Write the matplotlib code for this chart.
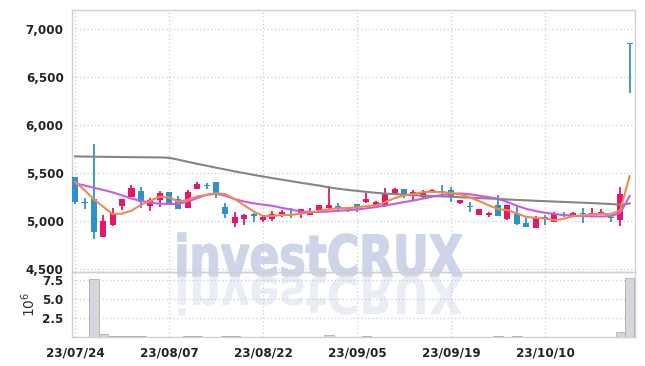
import numpy as np
import pandas as pd
import matplotlib
matplotlib.use('Agg')
import matplotlib.pyplot as plt
from matplotlib.textpath import TextPath
from matplotlib.patches import PathPatch
from matplotlib.font_manager import FontProperties, fontManager
from matplotlib.transforms import Affine2D

# daily OHLC (KRW), trading days 23/07/24 .. 23/10/23
opens = [5455, 5200, 5226, 4836, 4955, 5160, 5253, 5313, 5160, 5219,
         5299, 5226, 5139, 5337, 5375, 5403, 5146, 4983, 5021, 5073,
         5010, 5024, 5066, 5070, 5080, 5066, 5111, 5139, 5156, 5143,
         5174, 5198, 5156, 5160, 5278, 5334, 5264, 5253, 5306, 5316,
         5323, 5191, 5160, 5063, 5063, 5167, 5018, 5073, 4976, 4930,
         5038, 4993, 5066, 5049, 5083, 5073, 5076, 5045, 5010, 6860]
highs = [5455, 5237, 5802, 5059, 5139, 5226, 5372, 5351, 5243, 5313,
         5299, 5260, 5323, 5410, 5400, 5403, 5191, 5094, 5073, 5080,
         5055, 5107, 5118, 5139, 5125, 5139, 5170, 5365, 5184, 5150,
         5180, 5288, 5205, 5347, 5345, 5340, 5320, 5323, 5330, 5375,
         5357, 5225, 5200, 5130, 5095, 5271, 5170, 5149, 5028, 5050,
         5060, 5090, 5100, 5090, 5139, 5139, 5125, 5050, 5357, 6860]
lows = [5177, 5122, 4810, 4830, 4950, 5115, 5253, 5132, 5104, 5149,
        5191, 5122, 5139, 5337, 5330, 5236, 5028, 4934, 4958, 4990,
        4995, 5000, 5045, 5028, 5028, 5060, 5105, 5130, 5094, 5094,
        5090, 5190, 5150, 5150, 5270, 5236, 5219, 5245, 5290, 5285,
        5202, 5180, 5100, 5060, 5045, 5050, 5015, 4960, 4935, 4925,
        4955, 4990, 5040, 5045, 4983, 5070, 5070, 4990, 4948, 6333]
closes = [5201, 5190, 4889, 5000, 5087, 5226, 5341, 5198, 5216, 5288,
          5191, 5122, 5299, 5389, 5368, 5278, 5070, 5042, 5063, 5055,
          5038, 5073, 5097, 5059, 5125, 5097, 5163, 5167, 5122, 5130,
          5139, 5229, 5198, 5295, 5340, 5278, 5302, 5295, 5323, 5302,
          5253, 5219, 5143, 5125, 5087, 5055, 5163, 4972, 4941, 5042,
          5018, 5073, 5049, 5080, 5070, 5087, 5097, 5028, 5281, 6850]
volume_m = [0.03, 0.03, 7.6, 0.4, 0.13, 0.13, 0.13, 0.13, 0.02, 0.02,
            0.02, 0.02, 0.13, 0.13, 0.02, 0.02, 0.13, 0.13, 0.02, 0.02,
            0.02, 0.02, 0.02, 0.02, 0.02, 0.02, 0.02, 0.2, 0.02, 0.02,
            0.02, 0.13, 0.02, 0.02, 0.02, 0.02, 0.02, 0.02, 0.02, 0.02,
            0.02, 0.02, 0.02, 0.02, 0.02, 0.13, 0.02, 0.13, 0.02, 0.02,
            0.02, 0.02, 0.02, 0.02, 0.02, 0.02, 0.02, 0.02, 0.7, 7.75]

# first four 5-day averages need earlier closes ->
ma5_head = [5410, 5323, 5226, 5149]
ma20 = [5393, 5372, 5348, 5325, 5300, 5268, 5235, 5212, 5192, 5182,
        5178, 5180, 5205, 5240, 5275, 5285, 5265, 5228, 5205, 5185,
        5172, 5160, 5138, 5120, 5100, 5095, 5096, 5100, 5108, 5114,
        5122, 5133, 5147, 5163, 5180, 5198, 5215, 5235, 5255, 5272,
        5282, 5288, 5280, 5265, 5250, 5232, 5200, 5160, 5128, 5105,
        5087, 5075, 5063, 5058, 5053, 5050, 5049, 5052, 5085, 5262]
ma_long = [5675, 5673, 5671, 5670, 5669, 5668, 5667, 5666, 5665, 5664,
           5660, 5640, 5618, 5597, 5577, 5557, 5538, 5518, 5500, 5482,
           5465, 5448, 5432, 5416, 5400, 5385, 5370, 5352, 5338, 5325,
           5315, 5305, 5295, 5287, 5281, 5276, 5271, 5266, 5262, 5258,
           5254, 5249, 5245, 5240, 5236, 5231, 5226, 5221, 5217, 5212,
           5208, 5204, 5200, 5196, 5192, 5188, 5183, 5178, 5172, 5184]

tick_pos = [0, 10, 20, 30, 40, 50]
tick_labels = ['23/07/24', '23/08/07', '23/08/22', '23/09/05', '23/09/19', '23/10/10']

up_col = '#e5176a'
down_col = '#2d93c6'
grid_col = '#c9cbdc'

# condensed label font if one is around
names = {f.name for f in fontManager.ttflist}
if 'Liberation Sans Narrow' in names:
    tick_fp = FontProperties(family='Liberation Sans Narrow', weight='bold', size=10.5)
else:
    tick_fp = FontProperties(family='DejaVu Sans', stretch='condensed', weight='bold', size=9.5)

W, H = 645, 366
fig = plt.figure(figsize=(W / 100, H / 100), dpi=100)
ax = fig.add_axes([72 / W, (H - 272) / H, 563 / W, 262 / H])
axv = fig.add_axes([72 / W, (H - 337) / H, 563 / W, 65 / H], sharex=ax)

# watermark, drawn behind transparent axes
tp = TextPath((0, 0), 'investCRUX', size=100,
              prop=FontProperties(family='DejaVu Sans', weight='bold'))
ext = tp.get_extents()
sx = 284 / ext.width
sy = 43 / ext.ymax
tx = 178 - ext.x0 * sx
base = H - 276
fig.add_artist(PathPatch(tp, transform=Affine2D().scale(sx, sy).translate(tx, base),
                         facecolor='#cfd5e9', edgecolor='#cfd5e9', linewidth=1.2, zorder=-5))
fig.add_artist(PathPatch(tp, transform=Affine2D().scale(sx, -sy * 0.9).translate(tx, base - 1),
                         facecolor='#eaedf5', edgecolor='none', zorder=-5))

x = np.arange(len(closes))
o = np.array(opens)
c = np.array(closes)
cols = [up_col if cc >= oo else down_col for oo, cc in zip(o, c)]
ax.vlines(x, lows, highs, colors=cols, linewidth=1.3, zorder=3)
body = np.maximum(np.abs(c - o), 10)
ax.bar(x, body, bottom=np.minimum(o, c), width=0.64, color=cols, zorder=4)

ma5 = pd.Series(closes).rolling(5).mean().to_numpy()
ma5[:4] = ma5_head
ax.plot(x, ma_long, color='#858585', lw=1.5, zorder=5)
ax.plot(x, ma20, color='#c95ae6', lw=1.5, zorder=5)
ax.plot(x, ma5, color='#ef8a4c', lw=1.5, zorder=5)

ax.set_ylim(4470, 7200)
ax.set_xlim(-0.33, 59.57)
ax.set_yticks([4500, 5000, 5500, 6000, 6500, 7000])
ax.set_yticklabels([f'{v:,}' for v in [4500, 5000, 5500, 6000, 6500, 7000]])

axv.bar(x, volume_m, width=1.0, facecolor='#d6d6dd', edgecolor='#aeaeb6', linewidth=0.6, zorder=3)
axv.set_ylim(0, 8.55)
axv.set_yticks([2.5, 5.0, 7.5])
axv.set_yticklabels(['2.5', '5.0', '7.5'])
axv.set_ylabel(r'$10^6$', fontsize=10, labelpad=3, color='#333333')
axv.set_xticks(tick_pos)
axv.set_xticklabels(tick_labels)

for a in (ax, axv):
    a.set_facecolor('none')
    a.grid(True, color=grid_col, linestyle=(0, (1, 2)), linewidth=0.9)
    a.set_axisbelow(True)
    for s in a.spines.values():
        s.set_color('#cfcfd6')
        s.set_linewidth(1.0)
    a.tick_params(length=0, colors='#222222')
    for lab in a.get_yticklabels() + a.get_xticklabels():
        lab.set_fontproperties(tick_fp)
        lab.set_color('#222222')
ax.tick_params(axis='y', pad=6)
axv.tick_params(axis='y', pad=6)
axv.tick_params(axis='x', pad=7)
plt.setp(ax.get_xticklabels(), visible=False)

fig.savefig('out.png', dpi=100)
